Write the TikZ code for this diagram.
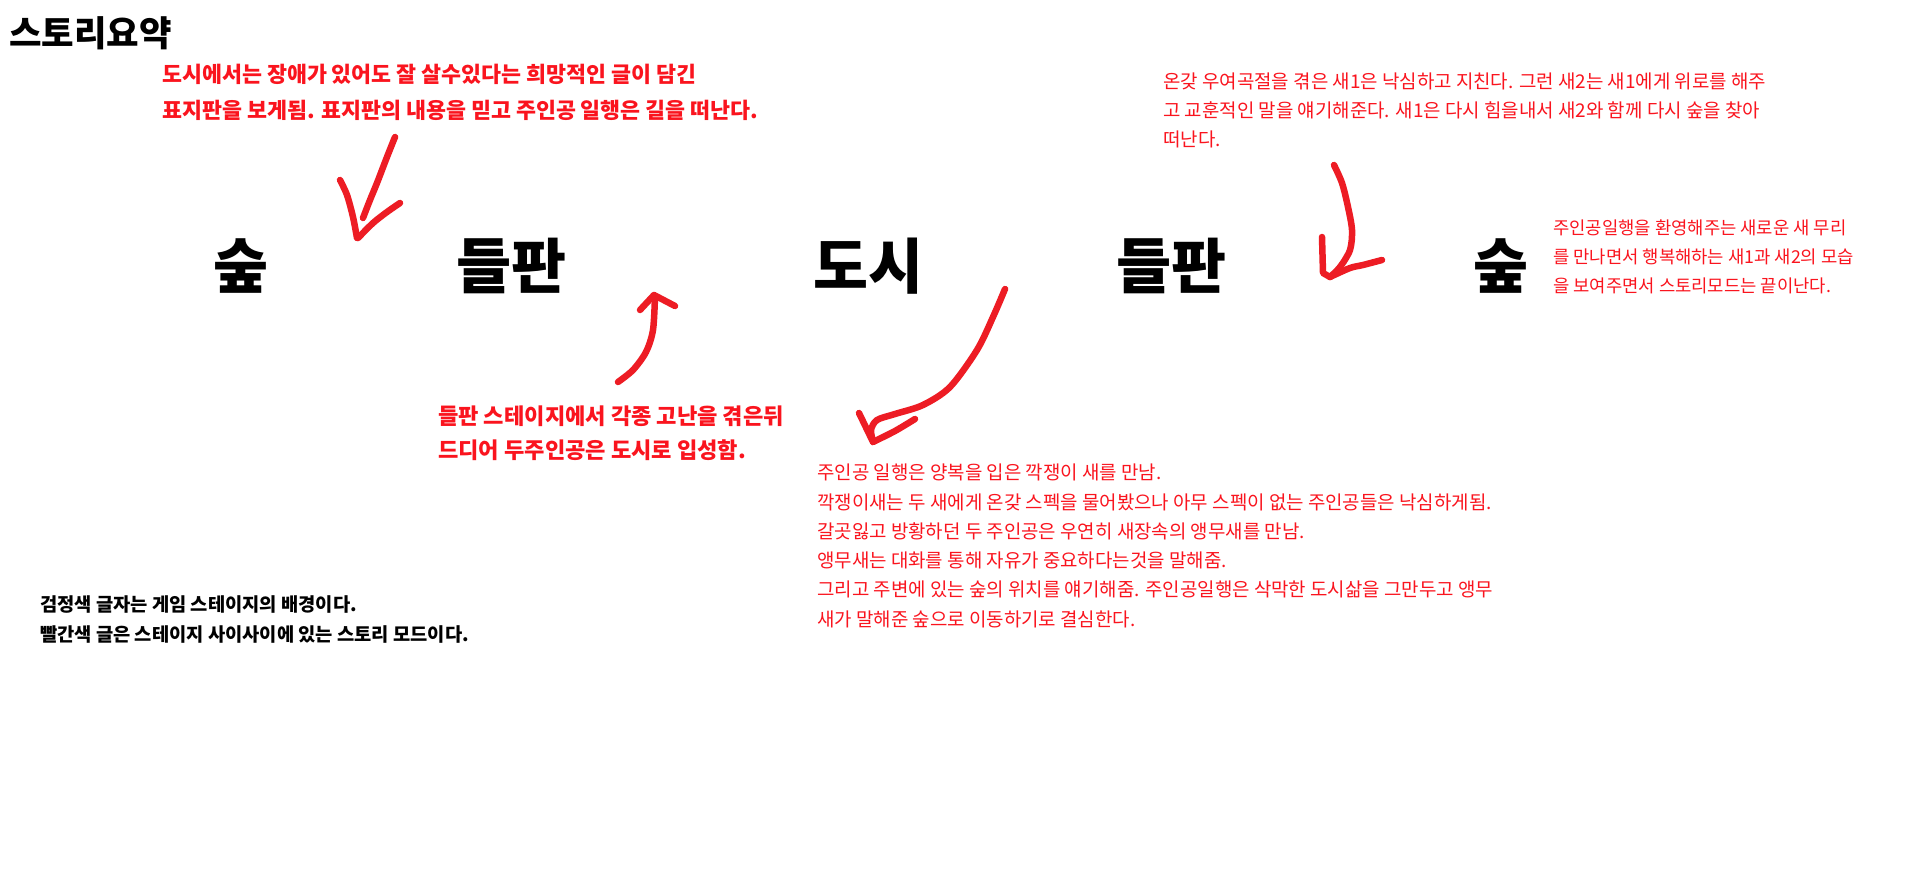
\documentclass[tikz,border=0pt]{standalone}
\usepackage{fontspec}
\setmainfont{Noto Sans CJK KR}
\definecolor{txtred}{RGB}{250,20,30}
\definecolor{penred}{RGB}{237,28,36}
\tikzset{
  txt/.style={inner sep=0pt, anchor=base west, align=left},
  big/.style={inner sep=0pt, anchor=base, font=\fontsize{60}{60}\selectfont\bfseries},
  pen/.style={draw=penred, line width=6.5bp, line cap=round, line join=round}
}
\begin{document}
\begin{tikzpicture}[x=1bp,y=-1bp]
\path[use as bounding box, fill=white] (0,0) rectangle (1914,889);
% title
\node[txt, font=\fontsize{35.5}{40}\selectfont\bfseries] (title) at (9,46.5) {스토리요약};
% stage words
\node[big] (f1) at (241,288) {숲};
\node[big] (p1) at (511,288) {들판};
\node[big] (d) at (868,288) {도시};
\node[big] (p2) at (1171,288) {들판};
\node[big] (f2) at (1501,288) {숲};
% red texts (anchor at baseline of last line)
\node[txt, text=txtred, font=\fontsize{21.8}{36}\selectfont\bfseries] (red1) at (162,118.3)
 {도시에서는 장애가 있어도 잘 살수있다는 희망적인 글이 담긴\\표지판을 보게됨. 표지판의 내용을 믿고 주인공 일행은 길을 떠난다.};
\node[txt, text=txtred, font=\fontsize{19}{29}\selectfont] (redtr) at (1163,146.2)
 {온갖 우여곡절을 겪은 새1은 낙심하고 지친다. 그런 새2는 새1에게 위로를 해주\\고 교훈적인 말을 얘기해준다. 새1은 다시 힘을내서 새2와 함께 다시 숲을 찾아\\떠난다.};
\node[txt, text=txtred, font=\fontsize{17.8}{29.5}\selectfont] (redr) at (1553,292.8)
 {주인공일행을 환영해주는 새로운 새 무리\\를 만나면서 행복해하는 새1과 새2의 모습\\을 보여주면서 스토리모드는 끝이난다.};
\node[txt, text=txtred, font=\fontsize{22.2}{34}\selectfont\bfseries] (cap) at (438,458.4)
 {들판 스테이지에서 각종 고난을 겪은뒤\\드디어 두주인공은 도시로 입성함.};
\node[txt, text=txtred, font=\fontsize{19}{29.4}\selectfont] (bottom) at (817,626.2)
 {주인공 일행은 양복을 입은 깍쟁이 새를 만남.\\깍쟁이새는 두 새에게 온갖 스펙을 물어봤으나 아무 스펙이 없는 주인공들은 낙심하게됨.\\갈곳잃고 방황하던 두 주인공은 우연히 새장속의 앵무새를 만남.\\앵무새는 대화를 통해 자유가 중요하다는것을 말해줌.\\그리고 주변에 있는 숲의 위치를 얘기해줌. 주인공일행은 삭막한 도시삶을 그만두고 앵무\\새가 말해준 숲으로 이동하기로 결심한다.};
% legend
\node[txt, font=\fontsize{18.8}{30}\selectfont\bfseries] (legend) at (40,641.1)
 {검정색 글자는 게임 스테이지의 배경이다.\\빨간색 글은 스테이지 사이사이에 있는 스토리 모드이다.};
% hand-drawn arrows
\draw[pen] plot[smooth] coordinates {(395,137) (387,157) (377,183) (370,200) (363,218)};
\draw[pen] plot[smooth] coordinates {(340,180) (347,195) (353,217) (357,238)};
\draw[pen] plot[smooth] coordinates {(400,203) (387,212) (373,223) (358,238)};
\draw[pen] plot[smooth] coordinates {(618,382) (633,370) (646,352) (653,330) (655,296)};
\draw[pen] (640,310) -- (654,295) -- (675,306);
\draw[pen] plot[smooth] coordinates {(1005,289) (993,317) (977,350) (950,387) (923,405) (895,414) (877,420) (871,430) (873,441)};
\draw[pen] (859,413) -- (873,442);
\draw[pen] plot[smooth] coordinates {(873,442) (895,431) (915,419)};
\draw[pen] plot[smooth] coordinates {(1334,165) (1342,183) (1348,207) (1352,230) (1350,250) (1340,267) (1330,277)};
\draw[pen] (1322,237) -- (1323,273) -- (1330,277);
\draw[pen] plot[smooth] coordinates {(1330,277) (1350,268) (1363,265) (1382,260)};
\end{tikzpicture}
\end{document}
